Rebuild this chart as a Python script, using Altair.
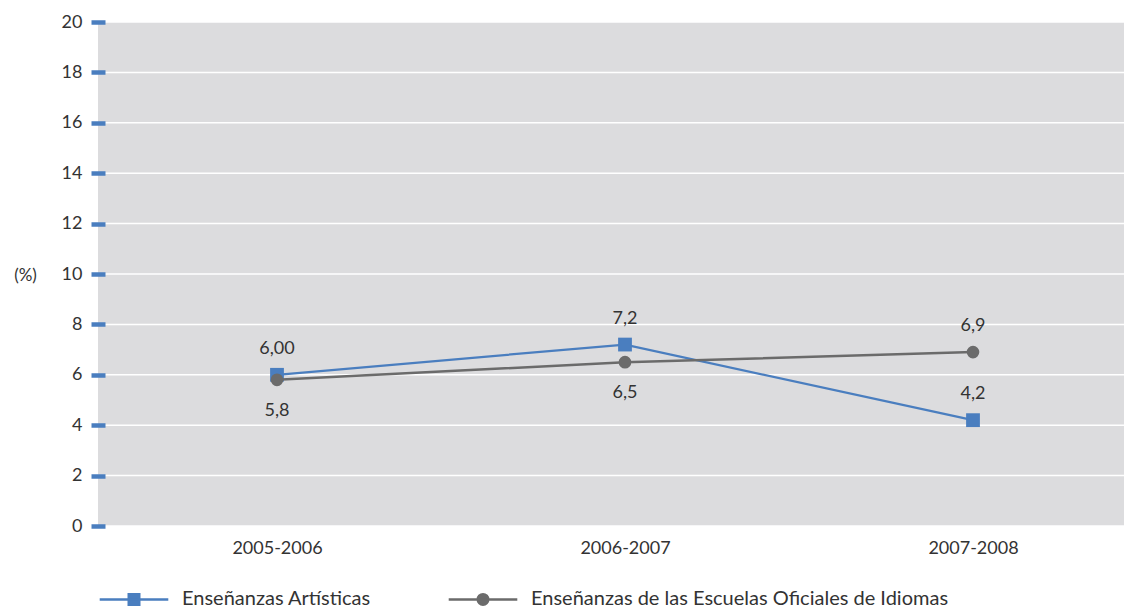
import altair as alt
import pandas as pd

# ---- data ----
cursos = ["2005-2006", "2006-2007", "2007-2008"]
series = ["Enseñanzas Artísticas", "Enseñanzas de las Escuelas Oficiales de Idiomas"]
valores_artisticas = [6.0, 7.2, 4.2]
valores_idiomas = [5.8, 6.5, 6.9]
etiquetas_artisticas = ["6,00", "7,2", "4,2"]
etiquetas_idiomas = ["5,8", "6,5", "6,9"]
lado_artisticas = ["arriba", "arriba", "arriba"]
lado_idiomas = ["abajo", "abajo", "arriba"]
ticks_y = list(range(0, 21, 2))

# ---- styles ----
AZUL = "#4a7ebf"
GRIS = "#6b6b6b"
TEXTO = "#333333"
FONDO = "#dcdcde"
FUENTE = "Lato"

rows = []
for c, v, e, l in zip(cursos, valores_artisticas, etiquetas_artisticas, lado_artisticas):
    rows.append({"curso": c, "serie": series[0], "valor": v, "etiqueta": e, "lado": l})
for c, v, e, l in zip(cursos, valores_idiomas, etiquetas_idiomas, lado_idiomas):
    rows.append({"curso": c, "serie": series[1], "valor": v, "etiqueta": e, "lado": l})
df = pd.DataFrame(rows)

x_enc = alt.X(
    "curso:O",
    sort=cursos,
    scale=alt.Scale(range=[179, 875], padding=0),
    axis=alt.Axis(
        title=None, domain=False, ticks=False, tickSize=0, labelAngle=0,
        labelPadding=13, labelFont=FUENTE, labelFontSize=18, labelColor=TEXTO,
    ),
)
y_scale = alt.Scale(domain=[0, 20], nice=False)
y_axis = alt.Axis(
    values=ticks_y, grid=False, domain=False, offset=-7, zindex=1,
    ticks=True, tickColor=AZUL, tickSize=14, tickWidth=4.5,
    labelFont=FUENTE, labelFontSize=18, labelColor=TEXTO, labelPadding=9,
    title="(%)", titleAngle=0, titleX=-80, titleY=253, titleAlign="center",
    titleBaseline="middle", titleFont=FUENTE, titleFontSize=17,
    titleFontWeight="normal", titleColor=TEXTO,
)

grid = alt.Chart(pd.DataFrame({"valor": ticks_y})).mark_rule(
    color="white", strokeWidth=1.5
).encode(y=alt.Y("valor:Q", scale=y_scale, axis=y_axis))

colores = [AZUL, GRIS]
formas = ["square", "circle"]
anchos = [2.2, 2.5]
tamanos = [190, 160]

layers = [grid]
for s, col, forma, w, t in zip(series, colores, formas, anchos, tamanos):
    base = alt.Chart(df).transform_filter(alt.datum.serie == s)
    layers.append(
        base.mark_line(color=col, strokeWidth=w).encode(
            x=x_enc, y=alt.Y("valor:Q", scale=y_scale, axis=y_axis)
        )
    )
    layers.append(
        base.mark_point(shape=forma, filled=True, opacity=1, color=col, size=t).encode(
            x=x_enc, y=alt.Y("valor:Q", scale=y_scale, axis=y_axis)
        )
    )

texto_arriba = alt.Chart(df).transform_filter(alt.datum.lado == "arriba").mark_text(
    dy=-26, font=FUENTE, fontSize=18, color=TEXTO
).encode(x=x_enc, y=alt.Y("valor:Q", scale=y_scale, axis=y_axis), text="etiqueta:N")
texto_abajo = alt.Chart(df).transform_filter(alt.datum.lado == "abajo").mark_text(
    dy=31, font=FUENTE, fontSize=18, color=TEXTO
).encode(x=x_enc, y=alt.Y("valor:Q", scale=y_scale, axis=y_axis), text="etiqueta:N")
layers += [texto_arriba, texto_abajo]

# legend: line + marker symbols as custom paths
sym_cuadrado = "M-4.9,0H4.9M-0.75,-0.75H0.75V0.75H-0.75Z"
sym_circulo = "M-4.9,0H4.9M0.75,0A0.75,0.75,0,1,1,-0.75,0A0.75,0.75,0,1,1,0.75,0Z"
leyenda = alt.Legend(
    title=None, orient="none", legendX=26, legendY=567, direction="horizontal",
    symbolSize=196, symbolStrokeWidth=2.5, symbolOpacity=1, labelOffset=38, labelFont=FUENTE,
    labelFontSize=20, labelColor=TEXTO, labelLimit=800, columnPadding=72, padding=0,
)
leyenda_capa = alt.Chart(df).transform_filter("false").mark_point(filled=True, opacity=1).encode(
    color=alt.Color("serie:N", scale=alt.Scale(domain=series, range=colores), legend=leyenda),
    stroke=alt.Stroke("serie:N", scale=alt.Scale(domain=series, range=colores), legend=leyenda),
    shape=alt.Shape("serie:N", scale=alt.Scale(domain=series, range=[sym_cuadrado, sym_circulo]), legend=leyenda),
)
layers.append(leyenda_capa)

chart = alt.layer(*layers).properties(
    width=1026, height=504,
    autosize=alt.AutoSizeParams(type="none"),
    padding={"left": 90, "top": 14, "right": 0, "bottom": 84},
    view=alt.ViewBackground(fill=FONDO, strokeWidth=0),
).configure_view(fill=FONDO, strokeWidth=0)

chart.save("out.html", embed_options={"renderer": "svg", "actions": False})
